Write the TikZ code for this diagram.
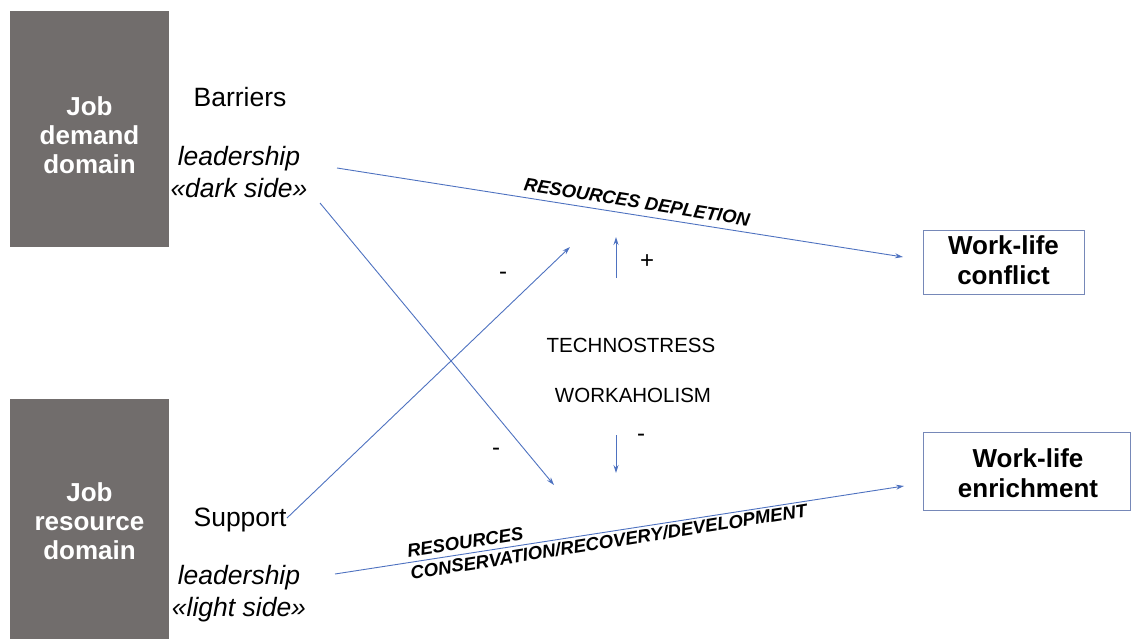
\documentclass[tikz,border=0pt]{standalone}
\usepackage{fontspec}
\setmainfont{Liberation Sans}
\usetikzlibrary{arrows.meta}
\definecolor{boxgray}{RGB}{113,109,108}
\definecolor{arrblue}{RGB}{78,114,192}
\definecolor{frameblue}{RGB}{118,136,184}
\tikzset{
  domainbox/.style={fill=boxgray,draw=none,inner sep=0pt},
  domaintext/.style={text=white,font=\fontsize{26}{29}\selectfont\bfseries,align=center,inner sep=0pt},
  sidetext/.style={font=\fontsize{26.5}{32}\selectfont,align=center,inner sep=0pt},
  outbox/.style={draw=frameblue,line width=0.9pt,inner sep=0pt},
  outtext/.style={font=\fontsize{26}{30}\selectfont\bfseries,align=center,inner sep=0pt},
  midtext/.style={font=\fontsize{20.5}{24}\selectfont,inner sep=0pt},
  signtext/.style={font=\fontsize{24}{26}\selectfont,inner sep=0pt},
  pathtext/.style={font=\fontsize{18.5}{22}\selectfont\bfseries\itshape,inner sep=0pt},
  arr/.style={draw=arrblue,line width=0.9pt,-{Stealth[length=8pt,width=5pt]}}
}
\begin{document}
\begin{tikzpicture}[x=1pt,y=-1pt]
\useasboundingbox (0,0) rectangle (1132,639);
% domain boxes
\node[domainbox,minimum width=159pt,minimum height=236pt] (jdd) at (89.5,129) {};
\node[domaintext] (jddt) at (89.5,135) {Job\\demand\\domain};
\node[domainbox,minimum width=159pt,minimum height=245pt] (jrd) at (89.5,521.5) {};
\node[domaintext] (jrdt) at (89.5,521) {Job\\resource\\domain};
% side texts
\node[sidetext] (bar) at (240,97) {Barriers};
\node[sidetext] (dark) at (239,172) {\itshape leadership\\\itshape «dark side»};
\node[sidetext] (sup) at (240,520) {Support};
\node[sidetext] (light) at (239,594) {\itshape leadership\\\itshape «light side»};
% outcome boxes
\node[outbox,minimum width=161pt,minimum height=64pt] (wlc) at (1003.5,262) {};
\node[outtext] (wlct) at (1003.5,260) {Work-life\\conflict};
\node[outbox,minimum width=207pt,minimum height=78pt] (wle) at (1026.5,471) {};
\node[outtext] (wlet) at (1028,473) {Work-life\\enrichment};
% middle
\node[midtext] (ts) at (631,345) {TECHNOSTRESS};
\node[midtext] (wh) at (633,395) {WORKAHOLISM};
% coordinates
\coordinate (a1s) at (337,168);
\coordinate (a1e) at (903,257);
\coordinate (a2s) at (320,203);
\coordinate (a2e) at (554,485);
\coordinate (a3s) at (287,518);
\coordinate (a3e) at (570,247);
\coordinate (a4s) at (616,278);
\coordinate (a4e) at (616,237);
\coordinate (a5s) at (616,435);
\coordinate (a5e) at (616,473);
\coordinate (a6s) at (335,574);
\coordinate (a6e) at (904,486);
\draw[arr] (a1s) -- (a1e);
\draw[arr] (a2s) -- (a2e);
\draw[arr] (a3s) -- (a3e);
\draw[arr] (a4s) -- (a4e);
\draw[arr] (a5s) -- (a5e);
\draw[arr] (a6s) -- (a6e);
% path labels
\node[pathtext,rotate=-9] (dep) at (637,202) {RESOURCES DEPLETION};
\node[pathtext,rotate=9,align=left] (cons) at (607,531) {RESOURCES\\CONSERVATION/RECOVERY/DEVELOPMENT};
% signs
\node[signtext] (s1) at (503,276) {-};
\node[signtext] (s2) at (647,262) {+};
\node[signtext] (s3) at (496,452) {-};
\node[signtext] (s4) at (641,438) {-};
\end{tikzpicture}
\end{document}
